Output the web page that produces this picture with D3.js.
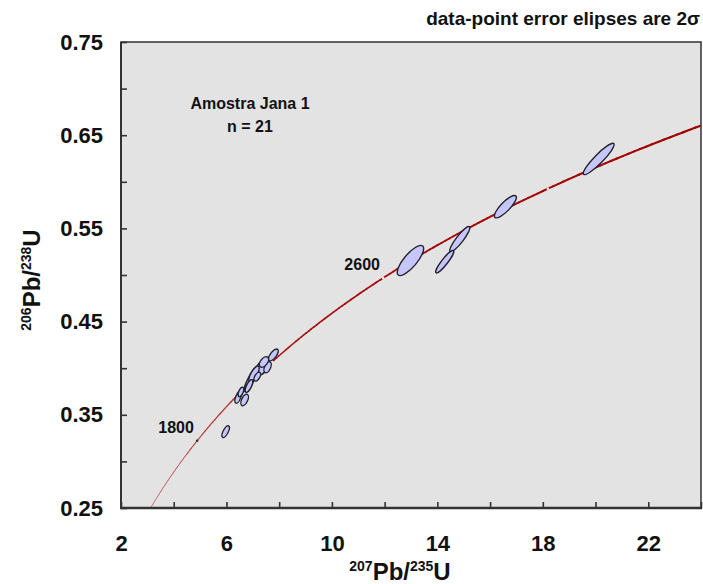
<!DOCTYPE html>
<html><head><meta charset="utf-8">
<script src="https://cdn.jsdelivr.net/npm/d3@7"></script>
<style>
body{margin:0;background:#fff;}
svg{display:block;}
text{font-family:"Liberation Sans",Arial,Helvetica,sans-serif;font-weight:bold;fill:#111;}
</style>
</head><body>
<svg id="c" width="703" height="584"></svg>
<script>
// ---- data ----
const xTickValues = [2,4,6,8,10,12,14,16,18,20,22,24];
const xTickLabels = [2,6,10,14,18,22];
const yTickValues = [0.25,0.30,0.35,0.40,0.45,0.50,0.55,0.60,0.65,0.70,0.75];
const yTickLabels = [0.25,0.35,0.45,0.55,0.65,0.75];

// data-point ellipses: 207Pb/235U, 2s, 206Pb/238U, 2s, error correlation
const ptX   = [5.97, 12.98, 14.85, 14.28, 16.58, 20.12, 6.45, 6.69, 6.92, 7.36, 7.56, 7.78, 7.045, 7.17, 6.55, 6.855, 7.424];
const ptSX  = [0.139,0.50, 0.381, 0.340, 0.417, 0.584, 0.125,0.144,0.243,0.269,0.138,0.187,0.197, 0.126,0.108,0.146, 0.173];
const ptY   = [0.3319,0.5156,0.5384,0.5143,0.5733,0.6245,0.3691,0.3659,0.3873,0.401,0.401,0.4142,0.3938,0.3909,0.3745,0.3809,0.4067];
const ptSY  = [0.00635,0.0162,0.0136,0.0120,0.0120,0.0168,0.0067,0.0061,0.01255,0.0090,0.0060,0.00635,0.0085,0.0048,0.0050,0.0068,0.0056];
const ptRho = [0.66,0.79,0.90,0.91,0.83,0.92,0.60,0.52,0.85,0.57,0.48,0.68,0.75,0.54,0.56,0.70,0.48];

// concordia age markers (Ma) and labelled ages
const markerAges = [1800,2200,2600,3000];
const labelAges  = [1800,2600];
const L238 = 1.55125e-10, L235 = 9.8485e-10;
// concordia is the theoretical curve sampled from 1400 to 3300 Ma
const concordiaAges = d3.range(1400, 3301, 10);

// ---- chart ----
const svg = d3.select('#c');
const L=121, R=701, T=42, B=508;
const x = d3.scaleLinear().domain([2,24]).range([L,R]);
const y = d3.scaleLinear().domain([0.25,0.75]).range([B,T]);
const cx = t => Math.exp(L235*t*1e6)-1;
const cy = t => Math.exp(L238*t*1e6)-1;

svg.append('defs').append('clipPath').attr('id','clip')
  .append('rect').attr('x',L).attr('y',T).attr('width',R-L).attr('height',B-T);

svg.append('rect').attr('x',L).attr('y',T).attr('width',R-L).attr('height',B-T).attr('fill','#e3e3e3');

const plot = svg.append('g').attr('clip-path','url(#clip)');

// concordia segments, widening with age
const wScale = d3.scaleLinear().domain([1400,2400,3300]).range([0.7,1.6,2.2]);
const cScale = d3.scaleLinear().domain([1400,2300,3300]).range(['#c86a6a','#a81010','#a00000']);
for (let i=0;i<concordiaAges.length-1;i++){
  const t0=concordiaAges[i], t1=concordiaAges[i+1];
  plot.append('line')
    .attr('x1',x(cx(t0))).attr('y1',y(cy(t0)))
    .attr('x2',x(cx(t1))).attr('y2',y(cy(t1)))
    .attr('stroke',cScale((t0+t1)/2)).attr('stroke-width',wScale((t0+t1)/2))
    .attr('stroke-linecap','round');
}
// age markers
plot.selectAll('circle.m').data(markerAges).join('circle').attr('class','m')
  .attr('cx',d=>x(cx(d))).attr('cy',d=>y(cy(d))).attr('r',1.3)
  .attr('fill',d=>d<2000?'#333':'#eeeeee');

// ellipses
const kx = x(1)-x(0), ky = y(1)-y(0);
const pts = ptX.map((v,i)=>({x:v,sx:ptSX[i],y:ptY[i],sy:ptSY[i],rho:ptRho[i]}));
pts.forEach(p=>{
  const a=p.sx*kx, b=p.sy*ky;
  const Sxx=a*a, Syy=b*b, Sxy=p.rho*a*b;
  const tr=Sxx+Syy, det=Sxx*Syy-Sxy*Sxy;
  const disc=Math.sqrt(Math.max(0,tr*tr/4-det));
  const l1=tr/2+disc, l2=Math.max(0,tr/2-disc);
  const ang=0.5*Math.atan2(2*Sxy,Sxx-Syy)*180/Math.PI;
  plot.append('ellipse')
    .attr('transform',`translate(${x(p.x)},${y(p.y)}) rotate(${ang})`)
    .attr('rx',Math.sqrt(l1)).attr('ry',Math.sqrt(l2))
    .attr('fill','#c6c6fb').attr('stroke','#22222e').attr('stroke-width',1.4);
});

// age labels
svg.selectAll('text.age').data(labelAges).join('text').attr('class','age')
  .attr('x',d=>x(cx(d))-21).attr('y',d=>y(cy(d))-8)
  .attr('text-anchor','middle').attr('font-size',16).text(d=>d);

// axes
const yAxis = svg.append('g').attr('transform',`translate(${L},0)`)
  .call(d3.axisLeft(y).tickValues(yTickValues).tickSizeInner(-6).tickSizeOuter(0).tickPadding(18)
    .tickFormat(d=>yTickLabels.some(v=>Math.abs(v-d)<1e-9)?d3.format('.2f')(d):''));
const xAxis = svg.append('g').attr('transform',`translate(0,${B})`)
  .call(d3.axisBottom(x).tickValues(xTickValues).tickSizeInner(-6).tickSizeOuter(0).tickPadding(27)
    .tickFormat(d=>xTickLabels.includes(d)?d:''));
[yAxis,xAxis].forEach(g=>{
  g.select('.domain').remove();
  g.selectAll('.tick line').attr('stroke','#333').attr('stroke-width',1.6);
  g.selectAll('.tick text').attr('font-size',22).attr('font-family','"Liberation Sans",Arial,sans-serif').attr('font-weight','bold').attr('fill','#111');
});

// frame
svg.append('rect').attr('x',L).attr('y',T).attr('width',R-L).attr('height',B-T)
  .attr('fill','none').attr('stroke','#333').attr('stroke-width',1.5);
svg.append('line').attr('x1',L).attr('x2',L).attr('y1',T).attr('y2',B).attr('stroke','#333').attr('stroke-width',2);
svg.append('line').attr('x1',L-1).attr('x2',R+1).attr('y1',B).attr('y2',B).attr('stroke','#333').attr('stroke-width',2.5);

// titles
svg.append('text').attr('x',700).attr('y',25).attr('text-anchor','end').attr('font-size',19)
  .text('data-point error elipses are 2σ');
svg.append('text').attr('x',250).attr('y',109).attr('text-anchor','middle').attr('font-size',16).text('Amostra Jana 1');
svg.append('text').attr('x',250).attr('y',132).attr('text-anchor','middle').attr('font-size',16).text('n = 21');

const xt = svg.append('text').attr('x',400).attr('y',580).attr('text-anchor','middle');
xt.append('tspan').attr('font-size',14).attr('dy',-9).text('207');
xt.append('tspan').attr('font-size',24).attr('dy',9).text('Pb/');
xt.append('tspan').attr('font-size',14).attr('dy',-9).text('235');
xt.append('tspan').attr('font-size',24).attr('dy',9).text('U');

const yt = svg.append('text').attr('transform','translate(40,280) rotate(-90)').attr('text-anchor','middle');
yt.append('tspan').attr('font-size',14).attr('dy',-9).text('206');
yt.append('tspan').attr('font-size',24).attr('dy',9).text('Pb/');
yt.append('tspan').attr('font-size',14).attr('dy',-9).text('238');
yt.append('tspan').attr('font-size',24).attr('dy',9).text('U');
</script>
</body></html>
